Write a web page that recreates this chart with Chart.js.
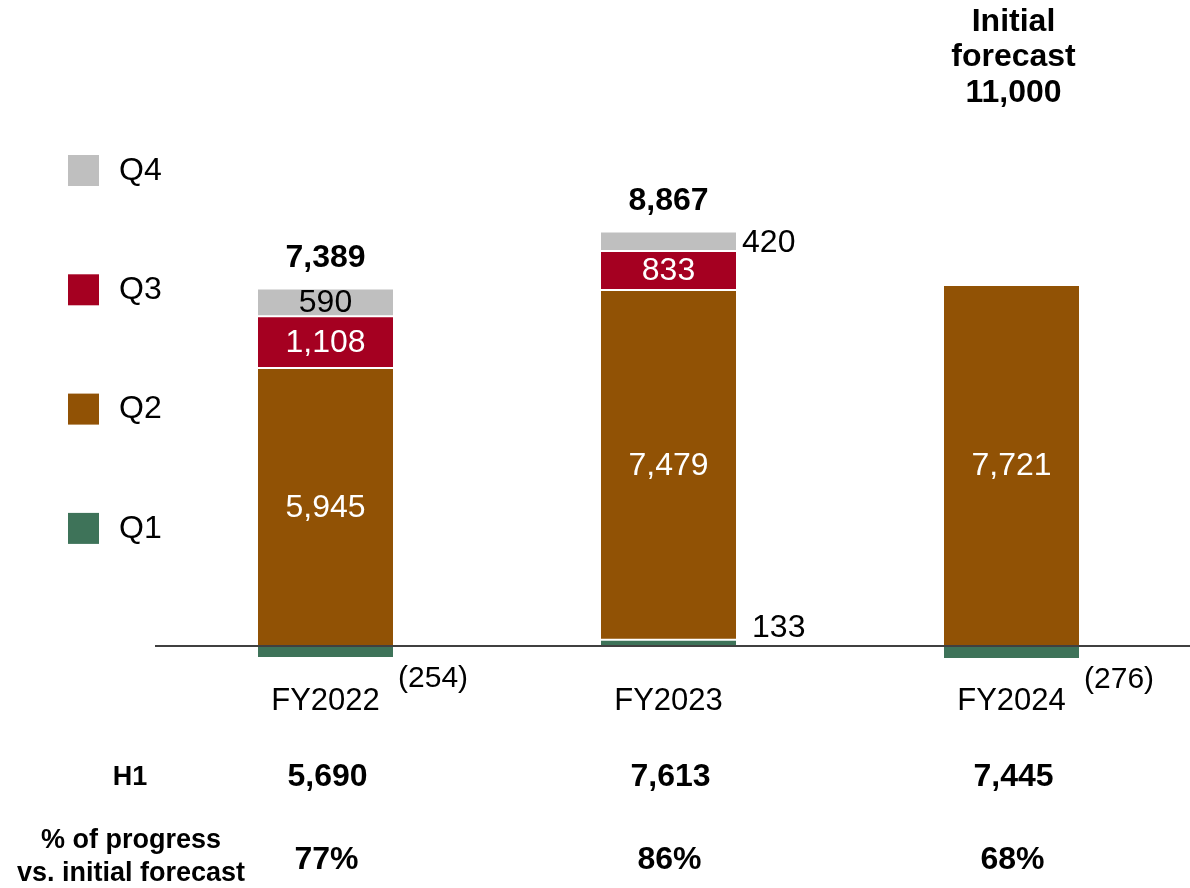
<!DOCTYPE html>
<html>
<head>
<meta charset="utf-8">
<title>Quarterly profit by fiscal year</title>
<script src="https://cdn.jsdelivr.net/npm/chart.js@4/dist/chart.umd.min.js"></script>
<style>
  html, body { margin: 0; padding: 0; background: #fff; }
  #wrap { position: relative; width: 1190px; height: 888px; }
</style>
</head>
<body>
<div id="wrap"><canvas id="profitChart"></canvas></div>
<script>
// Quarterly figures per fiscal year
const categories = ['FY2022', 'FY2023', 'FY2024'];
const q1 = [-254, 133, -276];
const q2 = [5945, 7479, 7721];
const q3 = [1108, 833, null];
const q4 = [590, 420, null];

// Stated totals, first-half results and progress rates
const totals = [7389, 8867, null];
const h1 = [5690, 7613, 7445];
const progress = [77, 86, 68];
const initialForecast = 11000;

const quarterNames = ['Q1', 'Q2', 'Q3', 'Q4'];
const quarterColors = ['#3e7359', '#915205', '#a50021', '#bfbfbf'];
const labelColors = ['#000', '#fff', '#fff', '#000'];

const FONT = '"Liberation Sans", Arial, Helvetica, sans-serif';

function fmt(v) {
  const s = Math.abs(v).toLocaleString('en-US');
  return v < 0 ? '(' + s + ')' : s;
}

// Everything beyond the bars is drawn here: baseline, segment values, totals,
// category labels, legend and the H1 / progress table
const annotations = {
  id: 'annotations',
  afterDatasetsDraw(chart) {
    const ctx = chart.ctx;
    const x = chart.scales.x;
    const y = chart.scales.y;
    const zero = y.getPixelForValue(0);

    ctx.save();
    ctx.strokeStyle = '#000';
    ctx.lineWidth = 1.5;
    ctx.beginPath();
    ctx.moveTo(155, zero);
    ctx.lineTo(1190, zero);
    ctx.stroke();

    ctx.textBaseline = 'middle';

    // segment values
    chart.data.datasets.forEach((ds, di) => {
      const meta = chart.getDatasetMeta(di);
      meta.data.forEach((bar, i) => {
        const v = ds.data[i];
        if (v === null || v === undefined) return;
        const top = Math.min(bar.y, bar.base);
        const bottom = Math.max(bar.y, bar.base);
        const h = bottom - top;
        const right = bar.x + bar.width / 2;
        ctx.font = '32px ' + FONT;
        if (h >= 24) {
          ctx.fillStyle = labelColors[di];
          ctx.textAlign = 'center';
          ctx.fillText(fmt(v), bar.x, (top + bottom) / 2 + 1);
        } else {
          ctx.fillStyle = '#000';
          ctx.textAlign = 'left';
          if (di === 0 && v < 0) {
            ctx.font = '30px ' + FONT;
            ctx.fillText(fmt(v), right + 5, bottom + 21);
          } else if (di === 0) {
            ctx.fillText(fmt(v), right + 16, top - 12);
          } else {
            ctx.fillText(fmt(v), right + 6, (top + bottom) / 2 + 2);
          }
        }
      });
    });

    // totals above each stack
    ctx.font = 'bold 32px ' + FONT;
    ctx.fillStyle = '#000';
    ctx.textAlign = 'center';
    totals.forEach((t, i) => {
      if (t === null) return;
      let stackTop = 0;
      chart.data.datasets.forEach(ds => {
        const v = ds.data[i];
        if (v > 0) stackTop += v;
      });
      ctx.fillText(fmt(t), x.getPixelForValue(i), y.getPixelForValue(stackTop) - 30);
    });

    // initial forecast note over the last year
    const lastX = x.getPixelForValue(categories.length - 1) + 2;
    ctx.fillText('Initial', lastX, 22);
    ctx.fillText('forecast', lastX, 57);
    ctx.fillText(initialForecast.toLocaleString('en-US'), lastX, 93);

    // category labels
    ctx.font = '31px ' + FONT;
    categories.forEach((c, i) => {
      ctx.fillText(c, x.getPixelForValue(i), 701);
    });

    // legend, Q4 at the top
    ctx.font = '32px ' + FONT;
    ctx.textAlign = 'left';
    for (let k = 3; k >= 0; k--) {
      const top = 155 + (3 - k) * 119.3;
      ctx.fillStyle = quarterColors[k];
      ctx.fillRect(68, top, 31, 31);
      ctx.fillStyle = '#000';
      ctx.fillText(quarterNames[k], 119, top + 16);
    }

    // H1 and progress table
    ctx.textAlign = 'center';
    ctx.font = 'bold 27px ' + FONT;
    ctx.fillText('H1', 130, 778);
    ctx.fillText('% of progress', 131, 841);
    ctx.fillText('vs. initial forecast', 131, 874);
    ctx.font = 'bold 32px ' + FONT;
    h1.forEach((v, i) => {
      ctx.fillText(fmt(v), x.getPixelForValue(i) + 2, 777);
    });
    progress.forEach((p, i) => {
      ctx.fillText(p + '%', x.getPixelForValue(i) + 1, 860);
    });
    ctx.restore();
  }
};

const series = [q1, q2, q3, q4];

new Chart(document.getElementById('profitChart').getContext('2d'), {
  type: 'bar',
  data: {
    labels: categories,
    datasets: series.map((values, k) => ({
      label: quarterNames[k],
      data: values,
      backgroundColor: quarterColors[k],
      borderColor: '#fff',
      borderWidth: { top: 1, bottom: 1, left: 0, right: 0 },
      borderSkipped: false,
      barPercentage: 0.394,
      categoryPercentage: 1
    }))
  },
  options: {
    responsive: true,
    maintainAspectRatio: false,
    animation: false,
    layout: { padding: { left: 154, right: 7, top: 0, bottom: 0 } },
    plugins: {
      legend: { display: false },
      tooltip: { enabled: false }
    },
    scales: {
      x: { stacked: true, display: false },
      y: { stacked: true, display: false, min: -5174, max: 13812 }
    }
  },
  plugins: [annotations]
});
</script>
</body>
</html>
